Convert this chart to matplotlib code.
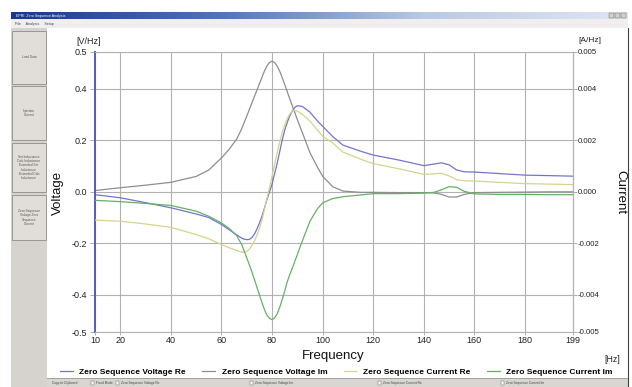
import numpy as np
import matplotlib
matplotlib.use("Agg")
import matplotlib.pyplot as plt
from matplotlib.patches import Rectangle
from matplotlib.colors import LinearSegmentedColormap

plt.rcParams['font.family'] = ['Liberation Sans', 'DejaVu Sans']

# ---------------- DATA ----------------
freq = [10, 20, 30, 40, 50, 55, 60, 63, 66, 68, 69, 70, 71, 72, 73, 74, 75, 76,
        77, 78, 79, 80, 81, 82, 83, 84, 85, 86, 87, 88, 89, 90, 92, 95, 98, 100,
        104, 108, 115, 120, 130, 140, 144, 147, 150, 153, 156, 160, 170, 180,
        190, 199]

# [V/Hz]
voltage_re = [-0.011, -0.023, -0.042, -0.062, -0.086, -0.100, -0.127, -0.147,
              -0.167, -0.180, -0.184, -0.186, -0.185, -0.178, -0.165, -0.145,
              -0.122, -0.095, -0.063, -0.030, 0.000, 0.030, 0.070, 0.110, 0.155,
              0.200, 0.240, 0.270, 0.295, 0.315, 0.328, 0.335, 0.332, 0.310,
              0.275, 0.255, 0.215, 0.182, 0.158, 0.143, 0.124, 0.102, 0.108,
              0.113, 0.105, 0.085, 0.078, 0.077, 0.071, 0.065, 0.063, 0.061]
voltage_im = [0.005, 0.016, 0.026, 0.037, 0.060, 0.085, 0.132, 0.165, 0.205,
              0.245, 0.270, 0.294, 0.320, 0.345, 0.370, 0.395, 0.420, 0.445,
              0.470, 0.490, 0.503, 0.508, 0.503, 0.490, 0.470, 0.445, 0.418,
              0.390, 0.362, 0.335, 0.308, 0.281, 0.230, 0.152, 0.095, 0.061,
              0.020, 0.003, -0.002, -0.002, -0.003, -0.003, -0.004, -0.010,
              -0.020, -0.020, -0.010, -0.003, -0.002, -0.001, 0.000, 0.000]

# [A/Hz]
current_re = [-0.00110, -0.00114, -0.00125, -0.00138, -0.00166, -0.00183,
              -0.00205, -0.00217, -0.00228, -0.00235, -0.00235, -0.00232,
              -0.00223, -0.00210, -0.00192, -0.00170, -0.00142, -0.00110,
              -0.00068, -0.00025, 0.00018, 0.00060, 0.00105, 0.00150, 0.00192,
              0.00230, 0.00260, 0.00285, 0.00302, 0.00315, 0.00317, 0.00314,
              0.00302, 0.00275, 0.00240, 0.00216, 0.00190, 0.00155, 0.00127,
              0.00110, 0.00090, 0.00068, 0.00070, 0.00072, 0.00062, 0.00047,
              0.00043, 0.00042, 0.00037, 0.00032, 0.00030, 0.00028]
current_im = [-0.00033, -0.00038, -0.00045, -0.00053, -0.00075, -0.00095,
              -0.00121, -0.00142, -0.00170, -0.00205, -0.00230, -0.00257,
              -0.00283, -0.00310, -0.00340, -0.00370, -0.00400, -0.00430,
              -0.00458, -0.00480, -0.00492, -0.00497, -0.00490, -0.00475,
              -0.00450, -0.00420, -0.00386, -0.00350, -0.00322, -0.00297,
              -0.00270, -0.00244, -0.00190, -0.00114, -0.00065, -0.00043,
              -0.00026, -0.00019, -0.00012, -0.00007, -0.00007, -0.00005,
              -0.00002, 0.00008, 0.00020, 0.00018, 0.00002, -0.00008,
              -0.00010, -0.00010, -0.00011, -0.00011]

series_names = ['Zero Sequence Voltage Re', 'Zero Sequence Voltage Im',
                'Zero Sequence Current Re', 'Zero Sequence Current Im']
series_colors = ['#7474d0', '#8e8e8e', '#d4d48e', '#66b066']

x_ticks = [10, 20, 40, 60, 80, 100, 120, 140, 160, 180, 199]
v_ticks = [-0.545, -0.4, -0.2, 0.0, 0.2, 0.4, 0.545]
v_tick_labels = ['-0.5', '-0.4', '-0.2', '0.0', '0.2', '0.4', '0.5']
i_ticks = [-0.00545, -0.004, -0.002, 0.0, 0.002, 0.004, 0.00545]
i_tick_labels = ['-0.005', '-0.004', '-0.002', '0.000', '0.002', '0.004', '0.005']

button_labels = ['Load Data', 'Injection\nCurrent',
                 'Set Inductance\nCalc Inductance\nExtended Set\nInductance\nExtended Calc\nInductance',
                 'Zero Sequence\nVoltage Zero\nSequence\nCurrent']

# ---------------- FIGURE ----------------
W, H = 632, 387
fig = plt.figure(figsize=(W / 100, H / 100), dpi=100)
fig.patch.set_facecolor('white')


def box(x0, y0, x1, y1, **kw):
    fig.add_artist(Rectangle((x0 / W, 1 - y1 / H), (x1 - x0) / W, (y1 - y0) / H,
                             transform=fig.transFigure, **kw))


def ftext(x, y, s, **kw):
    fig.text(x / W, 1 - y / H, s, **kw)


# window chrome
ax_t = fig.add_axes([11 / W, 1 - 19 / H, (628 - 11) / W, 7 / H])
grad = np.linspace(0, 1, 256).reshape(1, -1)
cmap_t = LinearSegmentedColormap.from_list('tb', ['#17388c', '#4f72b8', '#b9c9e4', '#dfe6f2'])
ax_t.imshow(grad, aspect='auto', cmap=cmap_t)
ax_t.axis('off')
ftext(16, 15.5, 'EPRI  Zero Sequence Analysis', fontsize=2.6, color='white', va='center')
for bx in (609, 615, 621):
    box(bx, 13.5, bx + 5, 18, facecolor='#d4d0c8', edgecolor='#606060', lw=0.3)

box(11, 19, 628, 28, facecolor='#f0eeee', edgecolor='none')
ftext(15, 23.5, 'File     Analysis     Setup', fontsize=2.6, color='#444444', va='center')

box(11, 28, 47, 387, facecolor='#d6d3ce', edgecolor='none')
btn_rows = [(31, 84), (86, 140), (143, 192), (195, 240)]
for (y0, y1), lab in zip(btn_rows, button_labels):
    box(12, y0, 46, y1, facecolor='#e1ded9', edgecolor='#8c8c8c', lw=0.6)
    ftext(29, (y0 + y1) / 2, lab, fontsize=2.3, color='#555555', ha='center',
          va='center', linespacing=1.1)

box(47, 378, 628, 387, facecolor='#d9d6d1', edgecolor='none')
fig.add_artist(plt.Line2D([47 / W, 628 / W], [1 - 378 / H] * 2,
                          transform=fig.transFigure, color='#9a9a9a', lw=0.6))
fig.add_artist(plt.Line2D([628 / W] * 2, [1 - 28 / H, 1 - 387 / H],
                          transform=fig.transFigure, color='#404040', lw=0.8))
ftext(52, 383, 'Copy to Clipboard', fontsize=2.3, color='#444444', va='center')
status_items = [(95, 'Fixed Mode'), (120, series_names[0]), (254, series_names[1]),
                (382, series_names[2]), (505, series_names[3])]
for sx, lab in status_items:
    box(sx - 4, 381, sx - 1, 384.5, facecolor='white', edgecolor='#555555', lw=0.3)
    ftext(sx + 1, 383, lab, fontsize=2.3, color='#444444', va='center')

# ---------------- CHART ----------------
ax = fig.add_axes([95 / W, 1 - 332 / H, (573 - 95) / W, (332 - 51.7) / H])
ax.set_xlim(10, 199)
ax.set_ylim(-0.545, 0.545)
ax.set_xticks(x_ticks)
ax.set_xticklabels([str(t) for t in x_ticks])
ax.set_yticks(v_ticks)
ax.set_yticklabels(v_tick_labels)
ax.grid(True, color='#b2b2b2', lw=0.8)
ax.set_axisbelow(True)
for side in ('top', 'bottom', 'right'):
    ax.spines[side].set_color('#b2b2b2')
    ax.spines[side].set_linewidth(0.8)
ax.spines['left'].set_color('#5a5ac4')
ax.spines['left'].set_linewidth(1.4)
ax.tick_params(axis='y', length=3.6, width=0.6, color='#a0a0a0', pad=1.8,
               labelsize=6.5, labelcolor='#222222')
ax.tick_params(axis='x', length=2, width=0.6, color='#a0a0a0', pad=0.8,
               labelsize=6.5, labelcolor='#222222')

l1, = ax.plot(freq, voltage_re, color=series_colors[0], lw=0.9)
l2, = ax.plot(freq, voltage_im, color=series_colors[1], lw=0.9)

ax2 = ax.twinx()
ax2.set_ylim(-0.00545, 0.00545)
ax2.set_yticks(i_ticks)
ax2.set_yticklabels(i_tick_labels)
for side in ('top', 'bottom', 'left'):
    ax2.spines[side].set_visible(False)
ax2.spines['right'].set_color('#b2b2b2')
ax2.spines['right'].set_linewidth(0.8)
ax2.tick_params(axis='y', length=2.9, width=0.6, color='#a0a0a0', pad=0.8,
                labelsize=5.6, labelcolor='#222222')

l3, = ax2.plot(freq, current_re, color=series_colors[2], lw=0.9)
l4, = ax2.plot(freq, current_im, color=series_colors[3], lw=0.9)

ax2.legend([l1, l2, l3, l4], series_names, ncol=4, loc='center left',
           bbox_to_anchor=(60 / W, 1 - 372 / H), bbox_transform=fig.transFigure,
           frameon=False, prop=dict(size=6.0, weight='bold'), handlelength=1.5,
           handletextpad=0.8, columnspacing=2.0, borderpad=0, borderaxespad=0)

ftext(58, 193, 'Voltage', fontsize=9.5, rotation=90, ha='center', va='center', color='#111111')
ftext(620, 192, 'Current', fontsize=9.5, rotation=270, ha='center', va='center', color='#111111')
ftext(333, 356, 'Frequency', fontsize=9.5, ha='center', va='center', color='#111111')
ftext(612, 359, '[Hz]', fontsize=6.3, ha='center', va='center', color='#222222')
ftext(89, 41, '[V/Hz]', fontsize=6.5, ha='center', va='center', color='#222222')
ftext(590, 41, '[A/Hz]', fontsize=6.0, ha='center', va='center', color='#222222')

fig.savefig('out.png', dpi=100)
